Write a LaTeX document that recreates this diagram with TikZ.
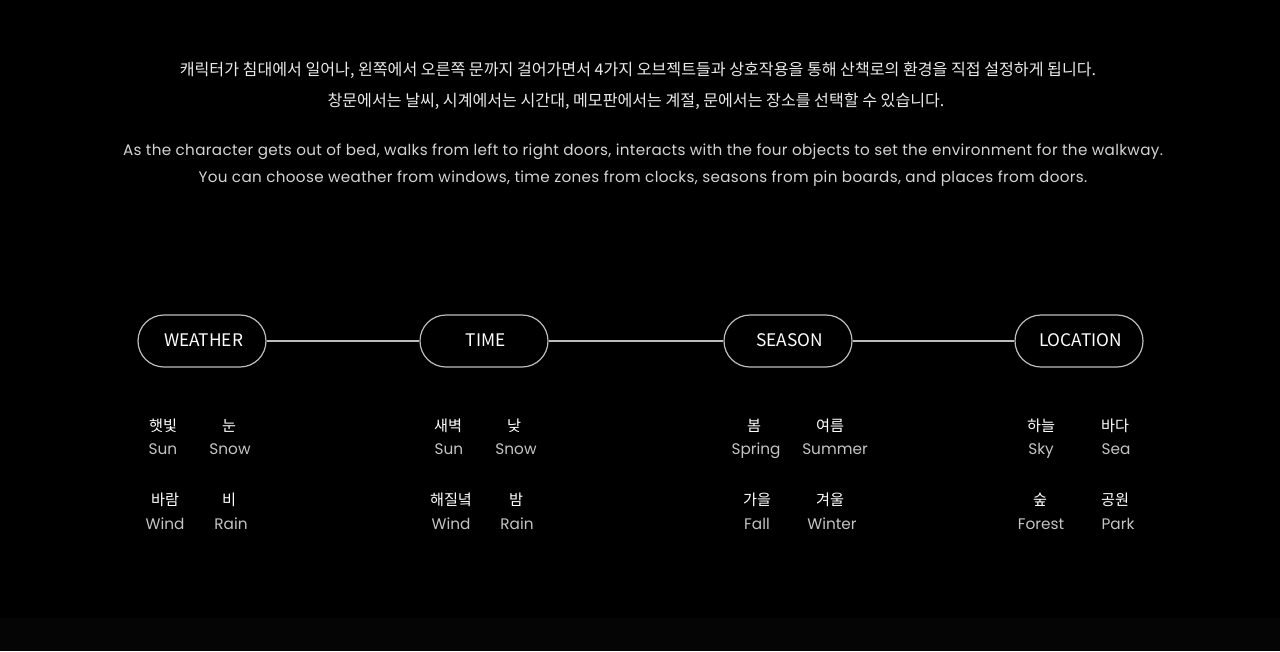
\documentclass[tikz,border=0pt]{standalone}
\usepackage{fontspec}
\setmainfont{Poppins}
\newfontfamily\enwide[LetterSpace=2.2]{Poppins}
\newfontfamily\kr{Noto Sans CJK KR}
\definecolor{bg}{HTML}{000000}
\definecolor{band}{HTML}{050505}
\definecolor{txt}{HTML}{EBEBEB}
\definecolor{entxt}{HTML}{D4D4D4}
\definecolor{lbl}{HTML}{C4C4C4}
\definecolor{edge}{HTML}{BDBDBD}
\tikzset{
  cat/.style={draw=edge, line width=1.2pt, rounded corners=26pt, minimum width=128pt, minimum height=52pt, inner sep=0pt, text=white, font=\kr\fontsize{17.3}{19}\selectfont},
  link/.style={draw=edge, line width=1.2pt},
  krl/.style={text=white, font=\kr\fontsize{15.2}{17}\selectfont, inner sep=0pt, anchor=base},
  enl/.style={text=lbl, font=\fontsize{15.3}{17}\selectfont, inner sep=0pt, anchor=base},
  krtop/.style={text=txt, font=\kr\fontsize{16.1}{18}\selectfont, inner sep=0pt, anchor=base},
  entop/.style={text=entxt, font=\enwide\fontsize{15.2}{17}\selectfont, inner sep=0pt, anchor=base}
}
\newcommand{\catlabel}[1]{\hspace*{3pt}\raisebox{1.5pt}{#1}}
\begin{document}
\begin{tikzpicture}[x=1pt,y=-1pt]
\fill[bg] (0,0) rectangle (1280,651);
\fill[band] (0,618) rectangle (1280,651);
\useasboundingbox (0,0) rectangle (1280,651);

\node[krtop] (k1) at (638,75.5) {캐릭터가 침대에서 일어나, 왼쪽에서 오른쪽 문까지 걸어가면서 4가지 오브젝트들과 상호작용을 통해 산책로의 환경을 직접 설정하게 됩니다.};
\node[krtop] (k2) at (636,106.5) {창문에서는 날씨, 시계에서는 시간대, 메모판에서는 계절, 문에서는 장소를 선택할 수 있습니다.};
\node[entop] (e1) at (643,155.5) {As the character gets out of bed, walks from left to right doors, interacts with the four objects to set the environment for the walkway.};
\node[entop] (e2) at (643,182.5) {You can choose weather from windows, time zones from clocks, seasons from pin boards, and places from doors.};

\node[cat] (weather) at (202,341) {\catlabel{WEATHER}};
\node[cat] (time) at (484,341) {\catlabel{TIME}};
\node[cat] (season) at (788,341) {\catlabel{SEASON}};
\node[cat] (location) at (1079,341) {\catlabel{LOCATION}};
\draw[link] (weather) -- (time);
\draw[link] (time) -- (season);
\draw[link] (season) -- (location);

% WEATHER
\node[krl] (w1k) at (163,431) {햇빛};
\node[enl] (w1e) at (163,454.5) {Sun};
\node[krl] (w2k) at (229,431) {눈};
\node[enl] (w2e) at (230,454.5) {Snow};
\node[krl] (w3k) at (165,505) {바람};
\node[enl] (w3e) at (165,529.5) {Wind};
\node[krl] (w4k) at (229,505) {비};
\node[enl] (w4e) at (231,529.5) {Rain};
% TIME
\node[krl] (t1k) at (448,431) {새벽};
\node[enl] (t1e) at (449,454.5) {Sun};
\node[krl] (t2k) at (514,431) {낮};
\node[enl] (t2e) at (516,454.5) {Snow};
\node[krl] (t3k) at (451,505) {해질녘};
\node[enl] (t3e) at (451,529.5) {Wind};
\node[krl] (t4k) at (516,505) {밤};
\node[enl] (t4e) at (517,529.5) {Rain};
% SEASON
\node[krl] (s1k) at (754,431) {봄};
\node[enl] (s1e) at (756,454.5) {Spring};
\node[krl] (s2k) at (830,431) {여름};
\node[enl] (s2e) at (835,454.5) {Summer};
\node[krl] (s3k) at (757,505) {가을};
\node[enl] (s3e) at (757,529.5) {Fall};
\node[krl] (s4k) at (830,505) {겨울};
\node[enl] (s4e) at (832,529.5) {Winter};
% LOCATION
\node[krl] (l1k) at (1041,431) {하늘};
\node[enl] (l1e) at (1041,454.5) {Sky};
\node[krl] (l2k) at (1115,431) {바다};
\node[enl] (l2e) at (1116,454.5) {Sea};
\node[krl] (l3k) at (1040,505) {숲};
\node[enl] (l3e) at (1041,529.5) {Forest};
\node[krl] (l4k) at (1115,505) {공원};
\node[enl] (l4e) at (1118,529.5) {Park};
\end{tikzpicture}
\end{document}
